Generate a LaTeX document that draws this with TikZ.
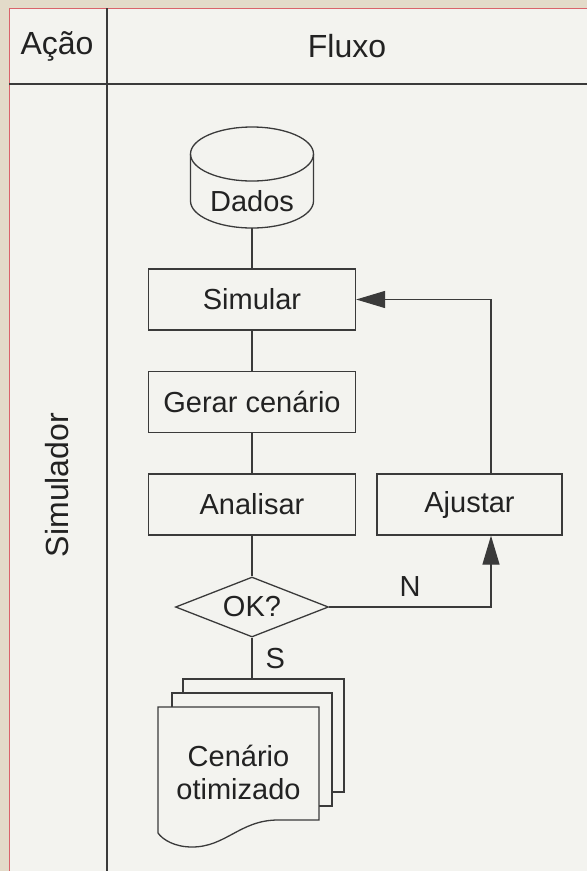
\documentclass[tikz,border=0pt]{standalone}
\usepackage{fontspec}
\setmainfont{Liberation Sans}
\usepackage{xcolor}
\usetikzlibrary{calc}
\usetikzlibrary{arrows.meta}
\usetikzlibrary{positioning,shapes.geometric}
\definecolor{fundo}{HTML}{E3DBC9}
\definecolor{painel}{HTML}{F3F3EF}
\definecolor{borda}{HTML}{D9646B}
\definecolor{traco}{HTML}{3A3A3A}
\definecolor{texto}{HTML}{222222}

\begin{document}
\begin{tikzpicture}[
x=1pt,y=-1pt,
Linhas/.style={draw=traco,line width=1.3pt},
Etapa/.style={Linhas,rectangle,minimum width=207pt,minimum height=61pt,inner sep=0pt,font=\fontsize{29}{33}\selectfont,text=texto},
Decisao/.style={Linhas,diamond,aspect=2.5,minimum width=153pt,minimum height=60pt,inner sep=0pt,font=\fontsize{29}{33}\selectfont,text=texto},
Rotulo/.style={font=\fontsize{29}{33}\selectfont,text=texto,inner sep=0pt},
Cabeca/.style={font=\fontsize{32}{36}\selectfont,text=texto,inner sep=0pt},
Seta/.style={Linhas,-{Triangle[length=29pt,width=17pt]}}
]
\useasboundingbox (0,0) rectangle (587,871);

% fundo e raias
\fill[fundo] (0,0) rectangle (587,871);
\fill[painel] (9,8) rectangle (587,871);
\draw[borda,line width=1pt] (9,871) -- (9,8) -- (587,8);
\draw[traco,line width=2pt] (9,84) -- (587,84);
\draw[traco,line width=1.3pt] (107,8) -- (107,871);

\node[Cabeca] (acao) at (57,46) {Ação};
\node[Cabeca] (fluxo) at (347,46) {Fluxo};
\node[Cabeca,rotate=90] (simulador) at (57,485) {Simulador};

% banco de dados
\node[Rotulo,minimum width=123pt,minimum height=54pt] (dados) at (252,201) {Dados};
\draw[Linhas] ($(dados.center)+(0,-47)$) ellipse [x radius=61.5pt, y radius=27pt];
\draw[Linhas] ($(dados.center)+(-61.5,-47)$) -- ($(dados.center)+(-61.5,0)$)
  arc[start angle=180, end angle=360, x radius=61.5pt, y radius=27pt]
  -- ($(dados.center)+(61.5,-47)$);

% etapas
\node[Etapa] (simular) at (252,299.5) {Simular};
\node[Etapa] (gerar) at (252,402) {Gerar cenário};
\node[Etapa] (analisar) at (252,504.5) {Analisar};
\node[Etapa,minimum width=185pt] (ajustar) at (469.5,504.5) {Ajustar};
\node[Decisao] (ok) at (252,607) {OK?};

% pilha de documentos
\draw[Linhas,fill=painel] (183,679) rectangle (344,792);
\draw[Linhas,fill=painel] (172,693) rectangle (332,806);
\draw[Linhas,fill=painel] (158,707) -- (319,707) -- (319,820) -- (278,820)
  .. controls (240,820) and (226,847) .. (192,847)
  .. controls (175,847) and (163,840) .. (158,833) -- cycle;
\node[Rotulo,align=center] (cenario) at (238.5,772) {Cenário\\otimizado};
\coordinate (topo) at (252,679);

% ligacoes
\draw[Linhas] (dados.south) -- (simular.north);
\draw[Linhas] (simular.south) -- (gerar.north);
\draw[Linhas] (gerar.south) -- (analisar.north);
\draw[Linhas] (analisar.south) -- (ok.north);
\draw[Linhas] (ok.south) -- (topo) node[Rotulo,midway,right=13pt]{S};
\draw[Seta] (ok.east) -| ($(ajustar.south)+(21.5,0)$) node[Rotulo,pos=0.25,above=10pt]{N};
\draw[Seta] ($(ajustar.north)+(21.5,0)$) |- (simular.east);

\end{tikzpicture}
\end{document}
